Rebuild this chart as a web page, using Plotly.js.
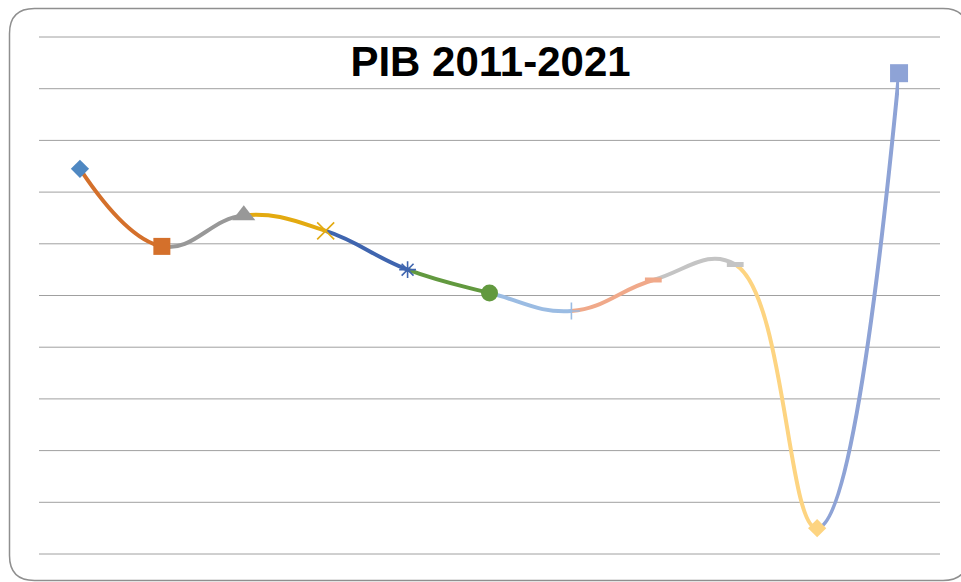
<!DOCTYPE html>
<html>
<head>
<meta charset="utf-8">
<script src="https://cdn.plot.ly/plotly-3.0.1.min.js"></script>
<style>
html,body{margin:0;padding:0;background:#ffffff;}
#chart{width:961px;height:582px;}
</style>
</head>
<body>
<div id="chart"></div>
<script>
// ---- Data ----
const years = ['2011','2012','2013','2014','2015','2016','2017','2018','2019','2020','2021'];
const pib = [6.9, 3.9, 5.1, 4.5, 3.0, 2.1, 1.4, 2.6, 3.2, -7.0, 10.6];
const yTickVals = [-8,-6,-4,-2,0,2,4,6,8,10,12];

// ---- Styles ----
const pointColors = ['#4F88C2','#D4702B','#989898','#E3AA10','#3F65AF','#62993F',
                     '#9BBCE3','#F0A98A','#C4C4C4','#FDD481','#8EA3D6'];
const markerSymbols = ['diamond','square','triangle-up','x-thin-open','asterisk-open','circle',
                       'cross-thin-open','line-ew-open','line-ew-open','diamond','square'];
const markerSizes = [14,17,20,17,14,17,12,12,12,14,18];
const markerLineWidths = [0,0,0,1.6,1.6,0,1.6,5,5,0,0];
const gridColor = '#A0A0A0';

// ---- Geometry (pixels) ----
const W = 961, H = 582;
const PL = 39, PR = 940, PT = 36, PB = 555;
const n = pib.length;
const idx = years.map((_, i) => i);
const yPad = 0.0387; // keeps the outer grid lines just inside the plot area
const yRange = [yTickVals[0] - yPad, yTickVals[yTickVals.length - 1] + yPad];
const xRange = [-0.5, n - 0.5];

const px2paperX = p => (p - PL) / (PR - PL);
const px2paperY = p => (PB - p) / (PB - PT);

const layout = {
  width: W, height: H,
  margin: {l: PL, r: W - PR, t: PT, b: H - PB, pad: 0},
  paper_bgcolor: '#ffffff',
  plot_bgcolor: 'rgba(0,0,0,0)',
  showlegend: false,
  hovermode: false,
  title: {
    text: 'PIB 2011-2021',
    font: {family: 'Liberation Sans, Arial, sans-serif', size: 42, color: '#000000', weight: 700},
    x: 490.5 / W, xref: 'container', xanchor: 'center',
    y: 1 - 61 / H, yref: 'container', yanchor: 'middle'
  },
  // main subplot (value scale)
  xaxis: {
    domain: [0, 1], range: xRange, visible: false, showgrid: false,
    zeroline: false, fixedrange: true, anchor: 'y'
  },
  yaxis: {
    domain: [0, 1], range: yRange,
    tickmode: 'array', tickvals: yTickVals, showticklabels: false, ticks: '',
    showgrid: false, zeroline: false,
    showline: false, fixedrange: true, anchor: 'x'
  },
  // top subplot for the markers (drawn last, above the line segments)
  xaxis12: {
    domain: [0, 1], range: xRange, visible: false, showgrid: false,
    zeroline: false, fixedrange: true, anchor: 'y2'
  },
  yaxis2: {
    domain: [0, 1], range: yRange, visible: false, showgrid: false,
    zeroline: false, fixedrange: true, anchor: 'x12'
  },
  shapes: []
};

// Horizontal grid lines at the value ticks (as shapes, so they stay below every segment)
yTickVals.forEach(v => {
  layout.shapes.push({
    type: 'line', xref: 'paper', yref: 'y', x0: 0, x1: 1, y0: v, y1: v,
    line: {color: gridColor, width: 1}, layer: 'below'
  });
});

// Rounded chart-area border
(function () {
  const x0 = 9.5, y0 = 8.5, x1 = 968, y1 = 580.5, r = 25;
  const X = px2paperX, Y = px2paperY;
  const path = [
    'M', X(x0 + r), Y(y0),
    'L', X(x1 - r), Y(y0),
    'Q', X(x1), Y(y0), X(x1), Y(y0 + r),
    'L', X(x1), Y(y1 - r),
    'Q', X(x1), Y(y1), X(x1 - r), Y(y1),
    'L', X(x0 + r), Y(y1),
    'Q', X(x0), Y(y1), X(x0), Y(y1 - r),
    'L', X(x0), Y(y0 + r),
    'Q', X(x0), Y(y0), X(x0 + r), Y(y0),
    'Z'
  ].join(' ');
  layout.shapes.push({
    type: 'path', xref: 'paper', yref: 'paper', path: path,
    line: {color: '#8F8F8F', width: 1.5}, fillcolor: 'rgba(0,0,0,0)', layer: 'below'
  });
})();

const traces = [];

// Smoothed line: each segment drawn in its own clipped sub-axis so it keeps
// the curvature of the full spline but takes the colour of its end point.
for (let k = 0; k < n - 1; k++) {
  const axId = 'x' + (k + 2);
  const lo = Math.max(0, k - 1), hi = Math.min(n - 1, k + 2);
  layout['xaxis' + (k + 2)] = {
    domain: [(k + 0.5) / n, (k + 1.5) / n], range: [k, k + 1],
    visible: false, showgrid: false, zeroline: false, fixedrange: true, anchor: 'y'
  };
  traces.push({
    type: 'scatter', mode: 'lines',
    x: idx.slice(lo, hi + 1), y: pib.slice(lo, hi + 1),
    xaxis: axId, yaxis: 'y',
    line: {shape: 'spline', smoothing: 1.2, color: pointColors[k + 1], width: 4, simplify: false},
    hoverinfo: 'skip', showlegend: false
  });
}

// Markers (top subplot)
traces.push({
  type: 'scatter', mode: 'markers',
  x: idx, y: pib, text: years,
  xaxis: 'x12', yaxis: 'y2', cliponaxis: false,
  marker: {
    symbol: markerSymbols, size: markerSizes, color: pointColors, opacity: 1,
    line: {color: pointColors, width: markerLineWidths}
  },
  hoverinfo: 'skip', showlegend: false
});

Plotly.newPlot('chart', traces, layout, {staticPlot: true, displayModeBar: false});
</script>
</body>
</html>
